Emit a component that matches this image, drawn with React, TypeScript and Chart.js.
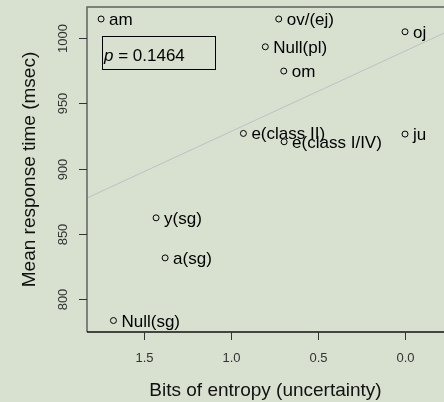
import { useEffect, useRef } from 'react';
import { Chart, registerables } from 'chart.js';

Chart.register(...registerables);

const pointLabels = ['am', 'ov/(ej)', 'Null(pl)', 'om', 'oj', 'e(class II)', 'e(class I/IV)', 'ju', 'y(sg)', 'a(sg)', 'Null(sg)'];
const entropyBits = [1.747, 0.726, 0.803, 0.697, 0.0, 0.929, 0.695, 0.0, 1.431, 1.379, 1.676];
const responseMs = [1014.6, 1014.6, 993.3, 974.7, 1004.8, 926.9, 920.5, 926.4, 862.2, 831.5, 783.5];

const xTicks = [1.5, 1.0, 0.5, 0.0];
const xTickLabels = ['1.5', '1.0', '0.5', '0.0'];
const yTicks = [800, 850, 900, 950, 1000];
const yTickLabels = ['800', '850', '900', '950', '1000'];

const regIntercept = 990.0;
const regSlope = -61.6;
const pValueText = '0.1464';

const X_MIN = -0.224;
const X_MAX = 1.828;
const Y_MIN = 774.7;
const Y_MAX = 1023.8;

const BG = '#d8e1d0';
const FONT = '"Liberation Sans", Arial, sans-serif';

const rPlot = {
  id: 'rPlot',
  beforeDraw(chart: any) {
    const { ctx, width, height } = chart;
    ctx.save();
    ctx.fillStyle = BG;
    ctx.fillRect(0, 0, width, height);
    ctx.restore();
  },
  afterDraw(chart: any) {
    const { ctx, chartArea: a } = chart;
    const xs = chart.scales.x;
    const ys = chart.scales.y;
    ctx.save();
    // axes / box
    ctx.lineWidth = 1.5;
    ctx.strokeStyle = '#5e625e';
    ctx.beginPath();
    ctx.moveTo(a.left, a.bottom);
    ctx.lineTo(a.left, a.top);
    ctx.lineTo(a.right + 2, a.top);
    ctx.stroke();
    ctx.strokeStyle = '#111';
    ctx.beginPath();
    ctx.moveTo(a.left, a.bottom);
    ctx.lineTo(a.right + 2, a.bottom);
    ctx.stroke();

    // x ticks
    ctx.lineWidth = 1;
    ctx.strokeStyle = '#333';
    ctx.fillStyle = '#333';
    ctx.font = `13px ${FONT}`;
    ctx.textAlign = 'center';
    ctx.textBaseline = 'middle';
    xTicks.forEach((v, i) => {
      const px = Math.round(xs.getPixelForValue(v)) + 0.5;
      ctx.beginPath();
      ctx.moveTo(px, a.bottom);
      ctx.lineTo(px, a.bottom + 8);
      ctx.stroke();
      ctx.fillText(xTickLabels[i], px, 358.5);
    });
    // y ticks
    yTicks.forEach((v, i) => {
      const py = Math.round(ys.getPixelForValue(v)) + 0.5;
      ctx.beginPath();
      ctx.moveTo(a.left, py);
      ctx.lineTo(a.left - 8, py);
      ctx.stroke();
      ctx.save();
      ctx.translate(63, py);
      ctx.rotate(-Math.PI / 2);
      ctx.fillText(yTickLabels[i], 0, 0);
      ctx.restore();
    });

    // titles
    ctx.fillStyle = '#111';
    ctx.font = `19px ${FONT}`;
    ctx.textAlign = 'center';
    ctx.textBaseline = 'alphabetic';
    ctx.fillText('Bits of entropy (uncertainty)', (a.left + 444) / 2, 396);
    ctx.save();
    ctx.translate(35, (a.top + a.bottom) / 2);
    ctx.rotate(-Math.PI / 2);
    ctx.fillText('Mean response time (msec)', 0, 0);
    ctx.restore();

    // point labels
    const meta = chart.getDatasetMeta(1);
    ctx.font = `17px ${FONT}`;
    ctx.textAlign = 'left';
    ctx.fillStyle = '#000';
    meta.data.forEach((el: any, i: number) => {
      ctx.fillText(pointLabels[i], el.x + 8, el.y + 6);
    });

    // p-value box
    ctx.strokeStyle = '#000';
    ctx.lineWidth = 1;
    ctx.strokeRect(102.5, 36.5, 113, 33);
    ctx.font = `italic 17px ${FONT}`;
    ctx.fillText('p', 104, 61);
    const pw = ctx.measureText('p').width;
    ctx.font = `17px ${FONT}`;
    ctx.fillText(' = ' + pValueText, 104 + pw, 61);
    ctx.restore();
  },
};

export default function App() {
  const ref = useRef<HTMLCanvasElement | null>(null);
  useEffect(() => {
    document.body.style.margin = '0';
    document.body.style.background = BG;
    const canvas = ref.current!;
    const chart = new Chart(canvas, {
      type: 'scatter',
      data: {
        datasets: [
          {
            label: 'fit',
            data: [
              { x: X_MIN, y: regIntercept + regSlope * X_MIN },
              { x: X_MAX, y: regIntercept + regSlope * X_MAX },
            ],
            showLine: true,
            borderColor: '#bcc0c4',
            borderWidth: 1,
            pointRadius: 0,
            fill: false,
          } as any,
          {
            label: 'languages',
            data: entropyBits.map((x, i) => ({ x, y: responseMs[i] })),
            pointRadius: 3,
            pointStyle: 'circle',
            borderColor: '#000',
            backgroundColor: 'rgba(0,0,0,0)',
            borderWidth: 1,
          },
        ],
      },
      options: {
        animation: false,
        responsive: false,
        devicePixelRatio: 1,
        layout: { autoPadding: false, padding: { left: 87, top: 7, right: 0, bottom: 70 } },
        plugins: { legend: { display: false }, tooltip: { enabled: false } },
        scales: {
          x: { type: 'linear', min: X_MIN, max: X_MAX, reverse: true, display: false },
          y: { type: 'linear', min: Y_MIN, max: Y_MAX, display: false },
        },
      },
      plugins: [rPlot],
    });
    return () => chart.destroy();
  }, []);
  return <canvas ref={ref} width={444} height={402} style={{ display: 'block' }} />;
}
